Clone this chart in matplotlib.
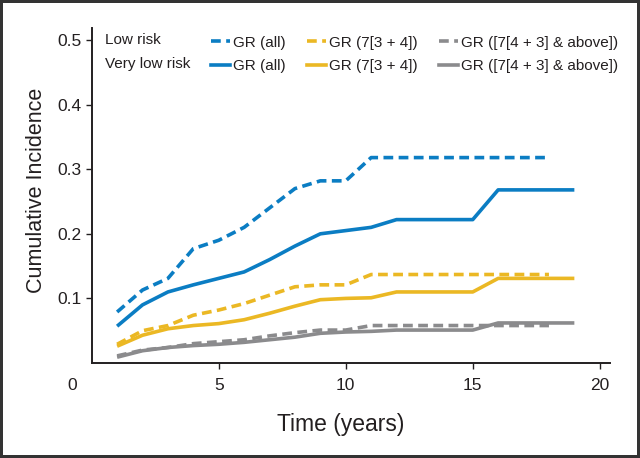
import numpy as np
import matplotlib.pyplot as plt
from matplotlib.lines import Line2D

plt.rcParams['font.family'] = ['Liberation Sans', 'DejaVu Sans']

# --- data (cumulative incidence by year) ---
years_low = list(range(1, 19))
years_vlow = list(range(1, 20))

low_all = [0.079, 0.113, 0.131, 0.177, 0.190, 0.210, 0.240, 0.270, 0.282, 0.282,
           0.318, 0.318, 0.318, 0.318, 0.318, 0.318, 0.318, 0.318]
low_34 = [0.029, 0.050, 0.058, 0.074, 0.082, 0.092, 0.105, 0.118, 0.121, 0.121,
          0.137, 0.137, 0.137, 0.137, 0.137, 0.137, 0.137, 0.137]
low_43 = [0.011, 0.020, 0.024, 0.030, 0.033, 0.036, 0.042, 0.047, 0.051, 0.051,
          0.058, 0.058, 0.058, 0.058, 0.058, 0.058, 0.058, 0.058]

vlow_all = [0.057, 0.090, 0.110, 0.121, 0.131, 0.141, 0.160, 0.181, 0.200, 0.205,
            0.210, 0.222, 0.222, 0.222, 0.222, 0.268, 0.268, 0.268, 0.268]
vlow_34 = [0.026, 0.043, 0.053, 0.058, 0.061, 0.067, 0.077, 0.088, 0.098, 0.100,
           0.101, 0.110, 0.110, 0.110, 0.110, 0.131, 0.131, 0.131, 0.131]
vlow_43 = [0.009, 0.019, 0.024, 0.027, 0.029, 0.032, 0.036, 0.040, 0.046, 0.048,
           0.049, 0.051, 0.051, 0.051, 0.051, 0.062, 0.062, 0.062, 0.062]

group_labels = ["GR (all)", "GR (7[3 + 4])", "GR ([7[4 + 3] & above])"]
row_labels = ["Low risk", "Very low risk"]
colors = ["#0b7dc3", "#ebb824", "#8b8b8d"]

DASH = (0, (2.7, 1.5))
LW = 2.6
AX_COLOR = "#231f20"

fig = plt.figure(figsize=(6.4, 4.58), dpi=100, edgecolor="#333333", linewidth=3)
ax = fig.add_axes([0.1433, 0.2074, 0.8097, 0.7306])

for vl, col in zip([vlow_all, vlow_34, vlow_43], colors):
    ax.plot(years_vlow, vl, color=col, lw=LW, solid_capstyle="butt")
for lo, col in zip([low_all, low_34, low_43], colors):
    ax.plot(years_low, lo, color=col, lw=LW, linestyle=DASH)

ax.set_xlim(0, 20.4)
ax.set_ylim(0, 0.518)
ax.set_xticks([5, 10, 15, 20])
ax.set_yticks([0.1, 0.2, 0.3, 0.4, 0.5])
ax.set_yticklabels(["0.1", "0.2", "0.3", "0.4", "0.5"])
ax.annotate("0", xy=(0, 0), xycoords="data", xytext=(-14, -16.5),
            textcoords="offset points", ha="center", va="center", fontsize=12.5,
            color=AX_COLOR)

for side in ["top", "right"]:
    ax.spines[side].set_visible(False)
for side in ["left", "bottom"]:
    ax.spines[side].set_linewidth(1.4)
    ax.spines[side].set_color(AX_COLOR)
ax.tick_params(direction="out", length=4.5, width=1, color=AX_COLOR,
               labelsize=12.5, labelcolor=AX_COLOR)
ax.tick_params(axis="x", pad=6.5)
ax.tick_params(axis="y", pad=3)

ax.set_xlabel("Time (years)", fontsize=16.5, color=AX_COLOR, labelpad=14, x=0.481)
ax.set_ylabel("Cumulative Incidence", fontsize=15.5, color=AX_COLOR, labelpad=7,
              y=0.516)

# legend: three colour columns, dashed = low risk, solid = very low risk
handles = []
labels = []
for lab, col in zip(group_labels, colors):
    handles.append(Line2D([], [], color=col, lw=LW, linestyle=DASH))
    labels.append(lab)
    handles.append(Line2D([], [], color=col, lw=LW))
    labels.append(lab)
leg = ax.legend(handles, labels, ncol=3, loc="upper left",
                bbox_to_anchor=(0.218, 0.997), frameon=False, fontsize=11,
                handlelength=1.25, handletextpad=0.2, columnspacing=1.4,
                labelspacing=0.65, borderaxespad=0)
for t in leg.get_texts():
    t.set_color(AX_COLOR)
for i, rl in enumerate(row_labels):
    ax.text(0.025, 0.964 - i * 0.071, rl, transform=ax.transAxes, fontsize=11,
            color=AX_COLOR, va="center", ha="left")

fig.savefig("out.png", dpi=100)
